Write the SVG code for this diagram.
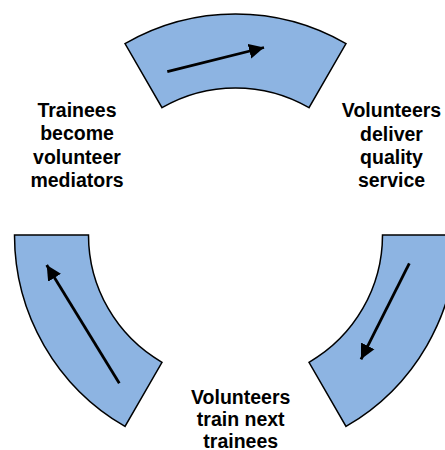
<svg xmlns="http://www.w3.org/2000/svg" width="445" height="450" viewBox="0 0 445 450">
<style>
.seg{fill:#8DB4E2;stroke:#000;stroke-width:1.5;stroke-linejoin:miter}
.arr{stroke:#000;stroke-width:2.8;fill:none}
.lbl{font-family:"Liberation Sans",Arial,sans-serif;font-weight:bold;font-size:19.5px;fill:#000;text-anchor:middle}
</style>
<defs>
<marker id="ah" markerUnits="userSpaceOnUse" markerWidth="16" markerHeight="16" viewBox="0 0 16 16" refX="15" refY="8" orient="auto">
<polygon points="0,0.5 15,8 0,15.5" fill="#000"/>
</marker>
</defs>
<rect width="445" height="450" fill="#fff"/>
<g id="seg-top"><path class="seg" d="M125,43.6 A221,221 0 0 1 346,43.6 L309,107.7 A147,147 0 0 0 162,107.7 Z"/></g>
<g id="seg-right"><path class="seg" d="M382.5,235 L456.5,235 A221,221 0 0 1 346,426.4 L309,362.3 A147,147 0 0 0 382.5,235 Z"/></g>
<g id="seg-left"><path class="seg" d="M125,426.4 A221,221 0 0 1 14.5,235 L88.5,235 A147,147 0 0 0 162,362.3 Z"/></g>
<g id="connectors">
<line class="arr" x1="167.3" y1="71.7" x2="264" y2="47.5" marker-end="url(#ah)"/>
<line class="arr" x1="409.3" y1="263.3" x2="361" y2="359.3" marker-end="url(#ah)"/>
<line class="arr" x1="119.3" y1="383.3" x2="46.7" y2="265" marker-end="url(#ah)"/>
</g>
<g id="label-left"><text class="lbl"><tspan x="77" y="116.8">Trainees</tspan><tspan x="77" y="140.2">become</tspan><tspan x="77" y="163.6">volunteer</tspan><tspan x="77" y="187">mediators</tspan></text></g>
<g id="label-right"><text class="lbl"><tspan x="391.5" y="117.3">Volunteers</tspan><tspan x="391.5" y="140.5">deliver</tspan><tspan x="391.5" y="163.6">quality</tspan><tspan x="391.5" y="187">service</tspan></text></g>
<g id="label-bottom"><text class="lbl"><tspan x="240.7" y="403.5">Volunteers</tspan><tspan x="240.7" y="425.8">train next</tspan><tspan x="240.7" y="447.8">trainees</tspan></text></g>
</svg>
